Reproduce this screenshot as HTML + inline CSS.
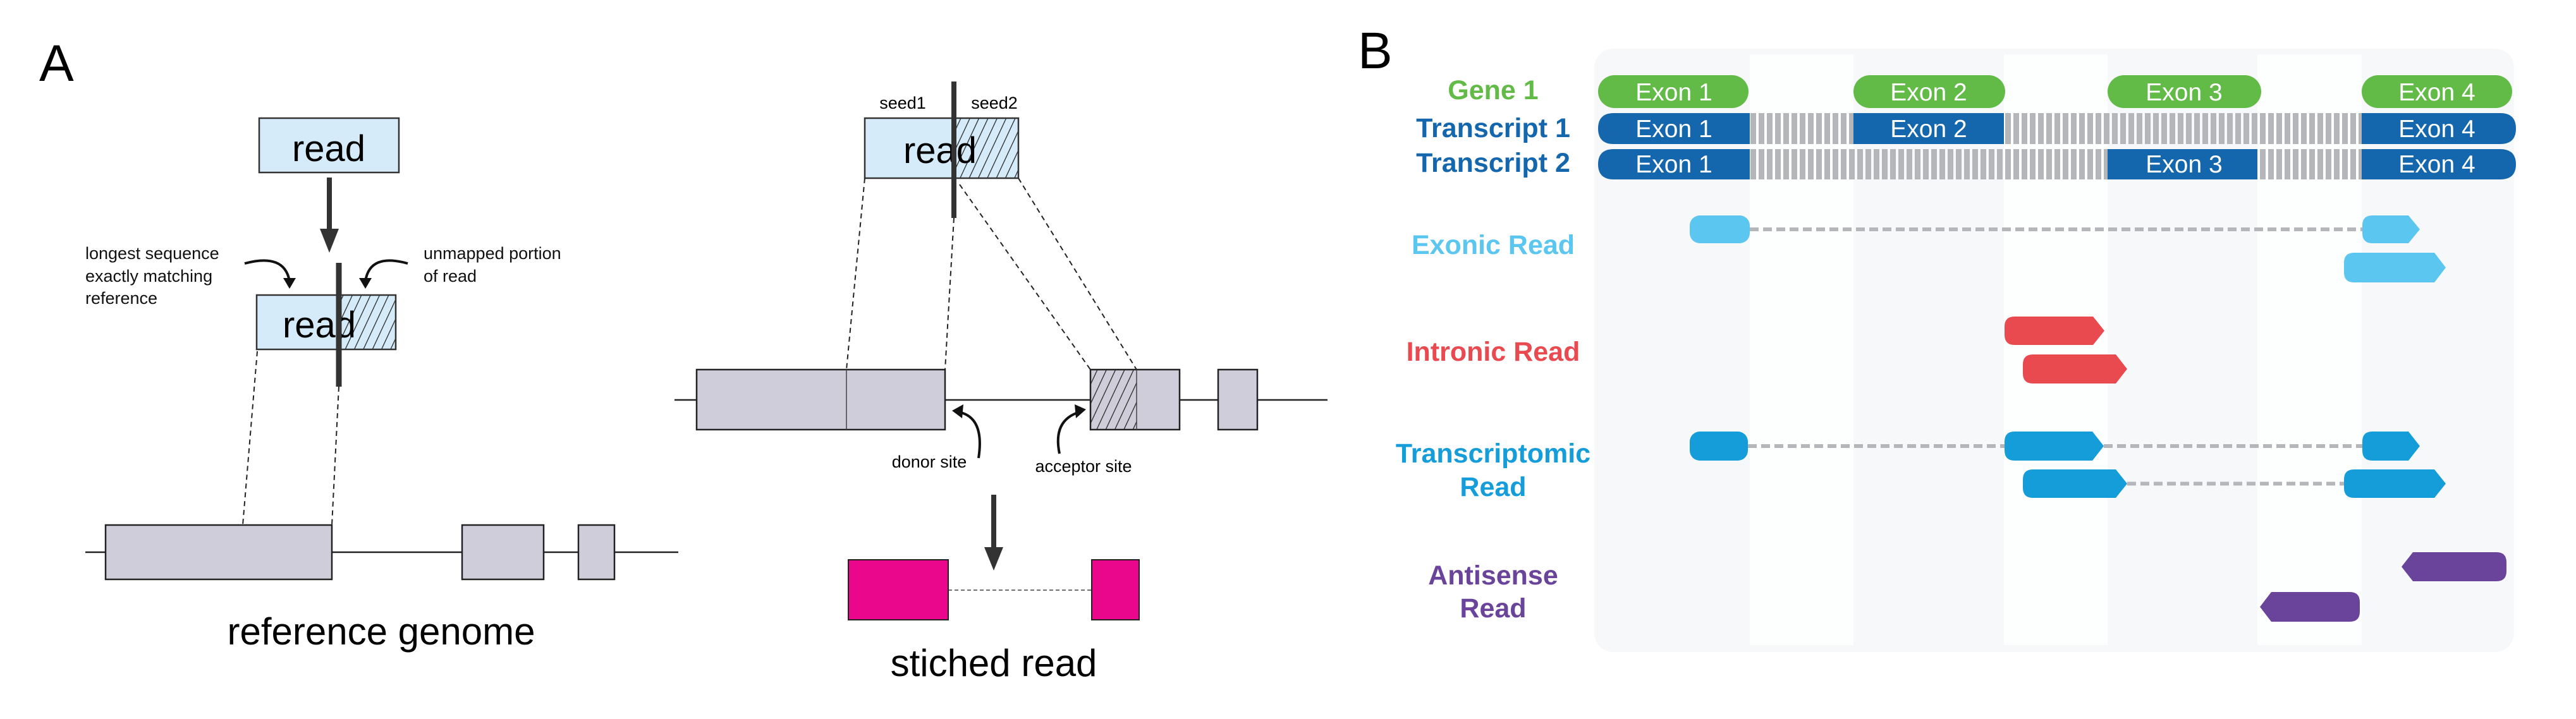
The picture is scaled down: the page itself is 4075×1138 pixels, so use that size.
<!DOCTYPE html>
<html><head><meta charset="utf-8"><style>
html,body{margin:0;padding:0;background:#fff;}
svg{display:block;}
text{font-family:"Liberation Sans",Arial,sans-serif;}
</style></head><body>
<svg width="4075" height="1138" viewBox="0 0 4075 1138" xmlns="http://www.w3.org/2000/svg">
<defs>
<pattern id="hatch" patternUnits="userSpaceOnUse" width="13" height="13" patternTransform="rotate(25)">
<rect width="13" height="13" fill="none"/><line x1="0" y1="0" x2="0" y2="13" stroke="#222" stroke-width="2.5"/>
</pattern>
<pattern id="stripe" patternUnits="userSpaceOnUse" width="13" height="60">
<rect x="0" y="0" width="9" height="60" fill="#b5b6b9"/>
</pattern>
</defs>

<!-- Panel A -->
<text x="62" y="128" font-size="82">A</text>

<rect x="410" y="187" width="221" height="86" fill="#d6ebf9" stroke="#333" stroke-width="2.5"/>
<text x="520" y="255" font-size="58" text-anchor="middle">read</text>
<line x1="521" y1="281" x2="521" y2="370" stroke="#333" stroke-width="8"/>
<polygon points="506,362 536,362 521,400" fill="#333"/>

<path d="M387,417 Q450,400 458,445" fill="none" stroke="#111" stroke-width="4"/>
<polygon points="448,440 468,440 458,457" fill="#111"/>
<path d="M645,417 Q585,400 578,445" fill="none" stroke="#111" stroke-width="4"/>
<polygon points="568,440 588,440 578,457" fill="#111"/>
<text font-size="27" fill="#111"><tspan x="135" y="410">longest sequence</tspan><tspan x="135" y="446">exactly matching</tspan><tspan x="135" y="481">reference</tspan></text>
<text font-size="27" fill="#111"><tspan x="670" y="410">unmapped portion</tspan><tspan x="670" y="446">of read</tspan></text>

<rect x="406" y="467" width="220" height="86" fill="#d6ebf9"/>
<rect x="533" y="467" width="93" height="86" fill="url(#hatch)"/>
<rect x="406" y="467" width="220" height="86" fill="none" stroke="#333" stroke-width="2.5"/>
<text x="505" y="534" font-size="58" text-anchor="middle">read</text>
<line x1="536" y1="416" x2="536" y2="612" stroke="#333" stroke-width="9"/>

<line x1="407" y1="556" x2="384" y2="831" stroke="#222" stroke-width="2" stroke-dasharray="8,6"/>
<line x1="536" y1="612" x2="525" y2="831" stroke="#222" stroke-width="2" stroke-dasharray="8,6"/>

<line x1="135" y1="874" x2="1073" y2="874" stroke="#222" stroke-width="2.5"/>
<rect x="167" y="831" width="358" height="86" fill="#cfcdd9" stroke="#222" stroke-width="2.5"/>
<rect x="731" y="831" width="129" height="86" fill="#cfcdd9" stroke="#222" stroke-width="2.5"/>
<rect x="915" y="831" width="57" height="86" fill="#cfcdd9" stroke="#222" stroke-width="2.5"/>
<text x="603" y="1020" font-size="60" text-anchor="middle">reference genome</text>

<text x="1428" y="172" font-size="27" text-anchor="middle">seed1</text>
<text x="1573" y="172" font-size="27" text-anchor="middle">seed2</text>
<rect x="1368" y="187" width="243" height="95" fill="#d6ebf9"/>
<rect x="1509" y="187" width="102" height="95" fill="url(#hatch)"/>
<rect x="1368" y="187" width="243" height="95" fill="none" stroke="#333" stroke-width="2.5"/>
<text x="1487" y="258" font-size="58" text-anchor="middle">read</text>
<line x1="1509" y1="129" x2="1509" y2="345" stroke="#333" stroke-width="8"/>

<line x1="1368" y1="282" x2="1339" y2="585" stroke="#222" stroke-width="2" stroke-dasharray="8,6"/>
<line x1="1509" y1="345" x2="1495" y2="585" stroke="#222" stroke-width="2" stroke-dasharray="8,6"/>
<line x1="1518" y1="292" x2="1725" y2="585" stroke="#222" stroke-width="2" stroke-dasharray="8,6"/>
<line x1="1611" y1="282" x2="1798" y2="585" stroke="#222" stroke-width="2" stroke-dasharray="8,6"/>

<line x1="1067" y1="633" x2="2100" y2="633" stroke="#222" stroke-width="2.5"/>
<rect x="1102" y="585" width="393" height="95" fill="#cfcdd9" stroke="#222" stroke-width="2.5"/>
<line x1="1339" y1="585" x2="1339" y2="680" stroke="#444" stroke-width="1.5"/>
<rect x="1725" y="585" width="141" height="95" fill="#cfcdd9" stroke="#222" stroke-width="2.5"/>
<rect x="1725" y="585" width="73" height="95" fill="url(#hatch)"/>
<line x1="1798" y1="585" x2="1798" y2="680" stroke="#444" stroke-width="1.5"/>
<rect x="1927" y="585" width="62" height="95" fill="#cfcdd9" stroke="#222" stroke-width="2.5"/>

<path d="M1548,725 Q1558,660 1516,652" fill="none" stroke="#111" stroke-width="4"/>
<polygon points="1506,650 1524,640 1522,662" fill="#111"/>
<text x="1470" y="740" font-size="27" text-anchor="middle">donor site</text>
<path d="M1676,718 Q1665,665 1708,652" fill="none" stroke="#111" stroke-width="4"/>
<polygon points="1718,648 1700,640 1702,662" fill="#111"/>
<text x="1714" y="747" font-size="27" text-anchor="middle">acceptor site</text>

<line x1="1572" y1="783" x2="1572" y2="875" stroke="#333" stroke-width="8"/>
<polygon points="1557,866 1587,866 1572,903" fill="#333"/>
<line x1="1500" y1="934" x2="1727" y2="934" stroke="#444" stroke-width="1.5" stroke-dasharray="6,4"/>
<rect x="1342" y="886" width="158" height="95" fill="#ea078b" stroke="#222" stroke-width="2"/>
<rect x="1727" y="886" width="75" height="95" fill="#ea078b" stroke="#222" stroke-width="2"/>
<text x="1572" y="1070" font-size="60" text-anchor="middle">stiched read</text>

<!-- Panel B -->
<text x="2148" y="108" font-size="82">B</text>
<rect x="2522" y="77" width="1455" height="955" rx="30" fill="#f6f8fa"/>
<rect x="2768" y="86" width="164" height="935" fill="#fdfefe"/>
<rect x="3170" y="86" width="164" height="935" fill="#fdfefe"/>
<rect x="3571" y="86" width="165" height="935" fill="#fdfefe"/>

<g fill="#62bb47">
<rect x="2528" y="119" width="238" height="52" rx="26"/>
<rect x="2932" y="119" width="240" height="52" rx="26"/>
<rect x="3334" y="119" width="243" height="52" rx="26"/>
<rect x="3736" y="119" width="238" height="52" rx="26"/>
</g>
<rect x="2768" y="179" width="968" height="49" fill="url(#stripe)"/>
<rect x="2768" y="236" width="968" height="48" fill="url(#stripe)"/>
<g fill="#1467ad">
<path d="M2553,179 H2768 V228 H2553 Q2528,228 2528,203.5 Q2528,179 2553,179Z"/>
<rect x="2932" y="179" width="238" height="49"/>
<path d="M3736,179 H3955 Q3980,179 3980,203.5 Q3980,228 3955,228 H3736Z"/>
<path d="M2553,236 H2768 V284 H2553 Q2528,284 2528,260 Q2528,236 2553,236Z"/>
<rect x="3334" y="236" width="237" height="48"/>
<path d="M3736,236 H3955 Q3980,236 3980,260 Q3980,284 3955,284 H3736Z"/>
</g>
<g fill="#fff" font-size="39" text-anchor="middle">
<text x="2648" y="159">Exon 1</text>
<text x="3051" y="159">Exon 2</text>
<text x="3455" y="159">Exon 3</text>
<text x="3855" y="159">Exon 4</text>
<text x="2648" y="217">Exon 1</text>
<text x="3051" y="217">Exon 2</text>
<text x="3855" y="217">Exon 4</text>
<text x="2648" y="273">Exon 1</text>
<text x="3455" y="273">Exon 3</text>
<text x="3855" y="273">Exon 4</text>
</g>
<g font-size="43" font-weight="bold" text-anchor="middle">
<text x="2362" y="157" fill="#62bb47">Gene 1</text>
<text x="2362" y="217" fill="#1467ad">Transcript 1</text>
<text x="2362" y="272" fill="#1467ad">Transcript 2</text>
<text x="2362" y="402" fill="#5bc6ef">Exonic Read</text>
<text x="2362" y="571" fill="#e84a50">Intronic Read</text>
<text x="2362" y="732" fill="#159dda">Transcriptomic</text>
<text x="2362" y="785" fill="#159dda">Read</text>
<text x="2362" y="925" fill="#6a449a">Antisense</text>
<text x="2362" y="977" fill="#6a449a">Read</text>
</g>

<g stroke="#b5b6b9" stroke-width="6" stroke-dasharray="14,7">
<line x1="2768" y1="363" x2="3737" y2="363"/>
<line x1="2765" y1="706" x2="3171" y2="706"/>
<line x1="3328" y1="706" x2="3737" y2="706"/>
<line x1="3365" y1="765.5" x2="3708" y2="765.5"/>
</g>

<g fill="#5bc6ef">
<rect x="2673" y="341" width="95" height="44" rx="16"/>
<path d="M3753,341 H3810 L3828,363 L3810,385 H3753 Q3737,385 3737,369 V357 Q3737,341 3753,341 Z"/>
<path d="M3724,400 H3851 L3869,423.5 L3851,447 H3724 Q3708,447 3708,431 V416 Q3708,400 3724,400Z"/>
</g>
<g fill="#e84a50">
<path d="M3187,501 H3311 L3329,523.5 L3311,546 H3187 Q3171,546 3171,530 V517 Q3171,501 3187,501Z"/>
<path d="M3216,561 H3347 L3365,584 L3347,607 H3216 Q3200,607 3200,591 V577 Q3200,561 3216,561Z"/>
</g>
<g fill="#159dda">
<rect x="2673" y="683" width="92" height="46" rx="16"/>
<path d="M3187,683 H3310 L3328,706 L3310,729 H3187 Q3171,729 3171,713 V699 Q3171,683 3187,683Z"/>
<path d="M3753,683 H3810 L3828,706 L3810,729 H3753 Q3737,729 3737,713 V699 Q3737,683 3753,683Z"/>
<path d="M3216,743 H3347 L3365,765.5 L3347,788 H3216 Q3200,788 3200,772 V759 Q3200,743 3216,743Z"/>
<path d="M3724,743 H3851 L3869,765.5 L3851,788 H3724 Q3708,788 3708,772 V759 Q3708,743 3724,743Z"/>
</g>
<g fill="#6a449a">
<path d="M3817,874 H3949 Q3965,874 3965,890 V904 Q3965,920 3949,920 H3817 L3799,897 Z"/>
<path d="M3593,937 H3717 Q3733,937 3733,953 V968 Q3733,984 3717,984 H3593 L3575,960.5Z"/>
</g>
</svg>
</body></html>
